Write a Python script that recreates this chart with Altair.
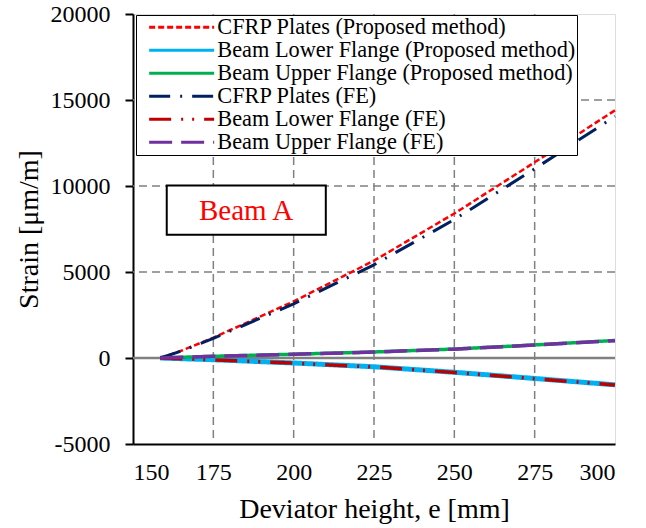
import altair as alt
import pandas as pd

# ---------------- data ----------------
x_vals = [158.5, 165, 175, 200, 225, 250, 275, 300]
cfrp_proposed = [0, 420, 1180, 3290, 5660, 8400, 11380, 14400]
lower_proposed = [0, -40, -100, -290, -510, -830, -1190, -1560]
upper_proposed = [0, 40, 100, 220, 350, 520, 760, 1020]
cfrp_fe = [0, 400, 1140, 3150, 5420, 8050, 11000, 14050]
lower_fe = [0, -40, -110, -300, -520, -840, -1200, -1570]
upper_fe = [0, 40, 100, 215, 345, 515, 750, 1010]

series_names = [
    "CFRP Plates (Proposed method)",
    "Beam Lower Flange (Proposed method)",
    "Beam Upper Flange (Proposed method)",
    "CFRP Plates (FE)",
    "Beam Lower Flange (FE)",
    "Beam Upper Flange (FE)",
]
series_values = [cfrp_proposed, lower_proposed, upper_proposed, cfrp_fe, lower_fe, upper_fe]

x_ticks = [150, 175, 200, 225, 250, 275, 300]
y_ticks = [-5000, 0, 5000, 10000, 15000, 20000]
x_grid = [175, 200, 225, 250, 275]
y_grid = [5000, 10000, 15000]

box_x = [160.5, 210]
box_y = [7170, 10035]
label_text = ["Beam A"]
label_x = [185.2]
label_y = [8550]

# ---------------- styles ----------------
colors = ["#FF0000", "#00B0F0", "#00B050", "#002060", "#C00000", "#7030A0"]
dashes = [[6, 3], [1, 0], [1, 0], [21, 10, 2, 10], [22, 10, 2, 9, 2, 10], [23, 9]]
widths = [2.5, 5, 3.5, 3, 3.5, 3.5]
FONT = "Liberation Serif"

rows = []
for name, vals in zip(series_names, series_values):
    for xv, yv in zip(x_vals, vals):
        rows.append({"x": xv, "strain": yv, "series": name})
df = pd.DataFrame(rows)

xs = alt.Scale(domain=[150, 300], nice=False, zero=False)
ys = alt.Scale(domain=[-5000, 20000], nice=False, zero=False)

x_axis = alt.Axis(
    title="Deviator height, e [mm]", values=x_ticks, labelExpr="'' + datum.value",
    grid=False, ticks=False, tickSize=0, labelPadding=35, labelBaseline="alphabetic",
    labelFont=FONT, labelFontSize=24, labelColor="black",
    titleFont=FONT, titleFontSize=28, titleFontWeight="normal", titleColor="black",
    titleX=241, titleY=73, titleBaseline="alphabetic",
    domainColor="black", domainWidth=2,
)
y_axis = alt.Axis(
    title="Strain [μm/m]", values=y_ticks, labelExpr="'' + datum.value",
    grid=False, ticks=True, tickSize=8, tickWidth=2, tickColor="black", labelPadding=15,
    labelFont=FONT, labelFontSize=24, labelColor="black",
    titleFont=FONT, titleFontSize=28, titleFontWeight="normal", titleColor="black",
    titleX=-104, titleY=215, titleAngle=-90, titleBaseline="middle", titleAlign="center",
    domainColor="black", domainWidth=2,
)

legend = alt.Legend(
    title=None, orient="none", legendX=3, legendY=1,
    fillColor="white", strokeColor="black", padding=1, rowPadding=0,
    labelFont=FONT, labelFontSize=22.3, labelColor="black", labelLimit=1000,
    labelOffset=58, symbolType="M0.2,0H13.2", symbolSize=100, symbolStrokeWidth=3,
)

color_enc = alt.Color("series:N", scale=alt.Scale(domain=series_names, range=colors), legend=legend)
dash_enc = alt.StrokeDash("series:N", scale=alt.Scale(domain=series_names, range=dashes), legend=legend)

grid_x = alt.Chart(pd.DataFrame({"x": x_grid})).mark_rule(
    color="#808080", strokeWidth=1.5, strokeDash=[8, 5]
).encode(x=alt.X("x:Q", scale=xs, axis=x_axis))

grid_y = alt.Chart(pd.DataFrame({"strain": y_grid})).mark_rule(
    color="#808080", strokeWidth=1.5, strokeDash=[8, 5]
).encode(y=alt.Y("strain:Q", scale=ys, axis=y_axis))

zero_line = alt.Chart(pd.DataFrame({"strain": [0]})).mark_rule(
    color="#808080", strokeWidth=2.5
).encode(y=alt.Y("strain:Q", scale=ys, axis=y_axis))

box = alt.Chart(pd.DataFrame({"x": [box_x[0]], "x2": [box_x[1]], "y": [box_y[0]], "y2": [box_y[1]]})).mark_rect(
    fill="white", stroke="black", strokeWidth=2
).encode(
    x=alt.X("x:Q", scale=xs, axis=x_axis), x2="x2:Q",
    y=alt.Y("y:Q", scale=ys, axis=y_axis), y2="y2:Q",
)

label = alt.Chart(pd.DataFrame({"x": label_x, "strain": label_y, "t": label_text})).mark_text(
    font=FONT, fontSize=29, color="#FF0000", align="center", baseline="middle"
).encode(
    x=alt.X("x:Q", scale=xs, axis=x_axis),
    y=alt.Y("strain:Q", scale=ys, axis=y_axis),
    text="t:N",
)

line_layers = []
for name, w in zip(series_names, widths):
    line_layers.append(
        alt.Chart(df).transform_filter(alt.datum.series == name).mark_line(
            strokeWidth=w, strokeCap="butt", strokeJoin="round"
        ).encode(
            x=alt.X("x:Q", scale=xs, axis=x_axis),
            y=alt.Y("strain:Q", scale=ys, axis=y_axis),
            color=color_enc,
            strokeDash=dash_enc,
        )
    )

chart = alt.layer(grid_x, grid_y, box, label, zero_line, *line_layers).properties(
    width=482, height=430,
    autosize=alt.AutoSizeParams(type="none"),
    padding={"left": 133, "top": 14, "right": 31, "bottom": 84},
).configure_view(stroke="black", strokeWidth=2).configure(background="white")

chart.save("out.html", embed_options={"renderer": "svg", "actions": False})
